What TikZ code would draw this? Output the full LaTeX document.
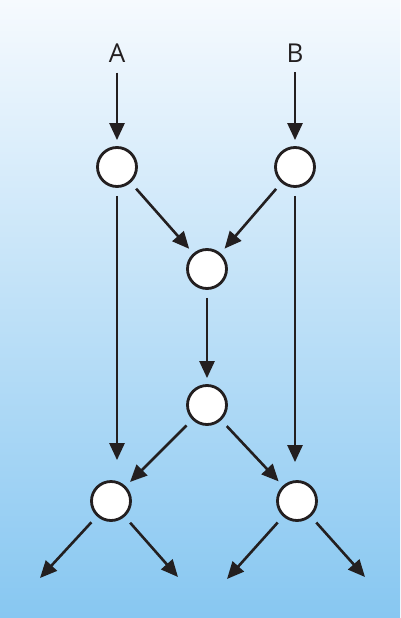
\documentclass[tikz,border=0pt]{standalone}
\usepackage{fontspec}
\setmainfont{Open Sans}
\usetikzlibrary{arrows.meta,positioning}
\definecolor{skytop}{HTML}{F6FAFE}
\definecolor{skybot}{HTML}{87C7F1}
\definecolor{ink}{HTML}{231F20}

\begin{document}
\begin{tikzpicture}[x=1pt,y=-1pt,
  cell/.style={circle,draw=ink,fill=white,line width=2.8pt,minimum size=39pt,inner sep=0pt},
  lbl/.style={font=\fontsize{26}{28}\selectfont,text=ink,inner sep=2pt},
  flow/.style={draw=ink,line width=2.6pt,-{Triangle[length=17pt,width=15pt]},shorten <=8pt,shorten >=6pt}]
  \shade[top color=skytop,bottom color=skybot] (0,0) rectangle (400,618);
  \useasboundingbox (0,0) rectangle (400,618);
  \node[lbl] (A) at (117,53) {A};
  \node[lbl] (B) at (295,53) {B};
  \node[cell] (N1) at (117,167) {};
  \node[cell] (N2) at (295,167) {};
  \node[cell] (N3) at (207,269) {};
  \node[cell] (N4) at (207,405) {};
  \node[cell] (N5) at (111,501) {};
  \node[cell] (N6) at (297,501) {};
  \coordinate (O1) at (40,578);
  \coordinate (O2) at (178,577);
  \coordinate (O3) at (227,579);
  \coordinate (O4) at (365,577);
  \draw[flow] (A) -- (N1);
  \draw[flow] (B) -- (N2);
  \draw[flow] (N1) -- (N3);
  \draw[flow] (N2) -- (N3);
  \draw[flow] (N3) -- (N4);
  \draw[flow] (N4) -- (N5);
  \draw[flow] (N4) -- (N6);
  \draw[flow,shorten >=20pt] (N1.south) -- (N1.south |- N5.north);
  \draw[flow,shorten >=18pt] (N2.south) -- (N2.south |- N6.north);
  \draw[flow,shorten >=0pt] (N5) -- (O1);
  \draw[flow,shorten >=0pt] (N5) -- (O2);
  \draw[flow,shorten >=0pt] (N6) -- (O3);
  \draw[flow,shorten >=0pt] (N6) -- (O4);
\end{tikzpicture}
\end{document}
